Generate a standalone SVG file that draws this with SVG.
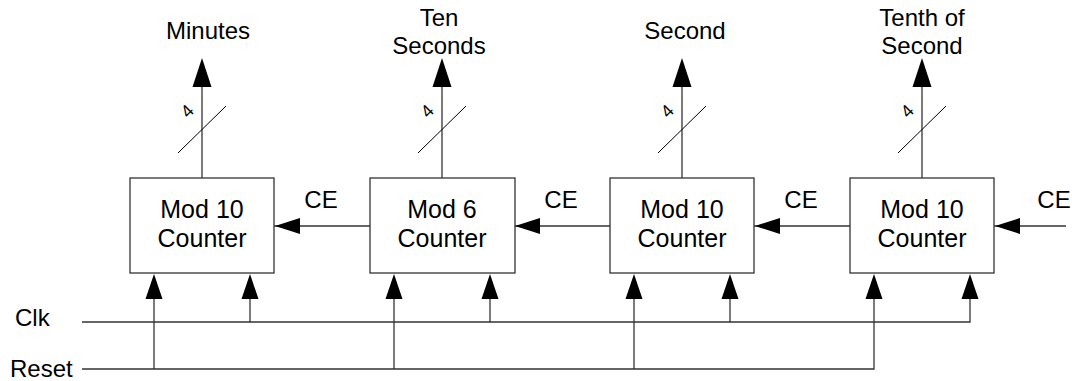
<svg xmlns="http://www.w3.org/2000/svg" width="1072" height="381" viewBox="0 0 1072 381">
  <style>
    .box { fill: #ffffff; stroke: #333333; stroke-width: 1.3; }
    .wire { fill: none; stroke: #333333; stroke-width: 1.3; }
    .slash { fill: none; stroke: #000000; stroke-width: 1; }
    .head { fill: #000000; stroke: none; }
    .lbl { font-family: "Liberation Sans", Arial, sans-serif; font-size: 24px; fill: #000000; }
    .cnt { font-family: "Liberation Sans", Arial, sans-serif; font-size: 25px; fill: #000000; text-anchor: middle; }
    .mid { text-anchor: middle; }
    .bw { font-family: "Liberation Sans", Arial, sans-serif; font-size: 18px; fill: #000000; text-anchor: middle; }
  </style>

  <!-- counters -->
  <g id="counter-minutes">
    <rect class="box" x="130" y="178" width="144" height="95"/>
    <text class="cnt" x="202" y="218">Mod 10</text>
    <text class="cnt" x="202" y="247">Counter</text>
  </g>
  <g id="counter-ten-seconds">
    <rect class="box" x="370" y="178" width="145" height="95"/>
    <text class="cnt" x="442" y="218">Mod 6</text>
    <text class="cnt" x="442" y="247">Counter</text>
  </g>
  <g id="counter-seconds">
    <rect class="box" x="610" y="178" width="144" height="95"/>
    <text class="cnt" x="682" y="218">Mod 10</text>
    <text class="cnt" x="682" y="247">Counter</text>
  </g>
  <g id="counter-tenths">
    <rect class="box" x="850" y="178" width="144" height="95"/>
    <text class="cnt" x="922" y="218">Mod 10</text>
    <text class="cnt" x="922" y="247">Counter</text>
  </g>

  <!-- output labels -->
  <g id="out-labels">
    <text class="lbl mid" x="208" y="39">Minutes</text>
    <text class="lbl mid" x="439" y="26">Ten</text>
    <text class="lbl mid" x="439" y="54">Seconds</text>
    <text class="lbl mid" x="685" y="39">Second</text>
    <text class="lbl mid" x="922" y="26">Tenth of</text>
    <text class="lbl mid" x="922" y="54">Second</text>
  </g>

  <!-- input labels -->
  <g id="in-labels">
    <text class="lbl" x="15" y="326">Clk</text>
    <text class="lbl" x="10" y="377">Reset</text>
    <text class="lbl mid" x="321" y="208">CE</text>
    <text class="lbl mid" x="561" y="208">CE</text>
    <text class="lbl mid" x="801" y="208">CE</text>
    <text class="lbl mid" x="1054" y="208">CE</text>
  </g>

  <g id="connectors">
    <!-- 4-bit output buses -->
    <path class="wire" d="M202 178 V87 M442 178 V87 M682 178 V87 M922 178 V87"/>
    <polygon class="head" points="202,58 192.5,87 211.5,87"/>
    <polygon class="head" points="442,58 432.5,87 451.5,87"/>
    <polygon class="head" points="682,58 672.5,87 691.5,87"/>
    <polygon class="head" points="922,58 912.5,87 931.5,87"/>
    <path class="slash" d="M178 153 L226 106 M418 153 L466 106 M658 153 L706 106 M898 153 L946 106"/>
    <text class="bw" transform="translate(187,111) rotate(-45)" y="6.4">4</text>
    <text class="bw" transform="translate(427,111) rotate(-45)" y="6.4">4</text>
    <text class="bw" transform="translate(667,111) rotate(-45)" y="6.4">4</text>
    <text class="bw" transform="translate(907,111) rotate(-45)" y="6.4">4</text>

    <!-- count enable chain -->
    <path class="wire" d="M1066 226 H994 M850 226 H754 M610 226 H515 M370 226 H274"/>
    <polygon class="head" points="995,226 1020,218 1020,234"/>
    <polygon class="head" points="755,226 780,218 780,234"/>
    <polygon class="head" points="515,226 540,218 540,234"/>
    <polygon class="head" points="275,226 300,218 300,234"/>

    <!-- clock -->
    <path class="wire" d="M82 322 H970 V299 M250 322 V299 M490 322 V299 M730 322 V299"/>
    <!-- reset -->
    <path class="wire" d="M82 369 H874 V299 M154 369 V299 M394 369 V299 M634 369 V299"/>
    <polygon class="head" points="154,274 145.5,299 162.5,299"/>
    <polygon class="head" points="250,274 241.5,299 258.5,299"/>
    <polygon class="head" points="394,274 385.5,299 402.5,299"/>
    <polygon class="head" points="490,274 481.5,299 498.5,299"/>
    <polygon class="head" points="634,274 625.5,299 642.5,299"/>
    <polygon class="head" points="730,274 721.5,299 738.5,299"/>
    <polygon class="head" points="874,274 865.5,299 882.5,299"/>
    <polygon class="head" points="970,274 961.5,299 978.5,299"/>
  </g>
</svg>
